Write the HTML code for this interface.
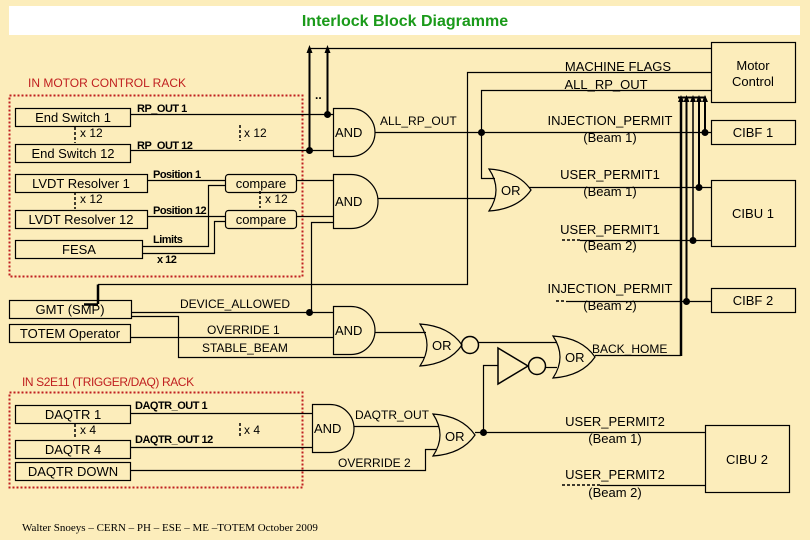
<!DOCTYPE html>
<html><head><meta charset="utf-8"><style>
html,body{margin:0;padding:0;background:#fcedbb;}
svg{display:block;font-family:"Liberation Sans",sans-serif;}
</style></head><body>
<svg width="810" height="540" viewBox="0 0 810 540" xmlns="http://www.w3.org/2000/svg">
<rect width="810" height="540" fill="#fcedbb"/>
<rect x="9" y="6" width="791" height="29" fill="#fff"/>
<text x="405" y="26" text-anchor="middle" font-size="16" font-weight="bold" fill="#1a9a1a">Interlock Block Diagramme</text>

<g fill="none" stroke="#000" stroke-width="1.2">
<rect x="9.5" y="95.5" width="293" height="181" stroke="#c02020" stroke-width="2" stroke-dasharray="2,2"/>
<rect x="9.5" y="392.5" width="293" height="95" stroke="#c02020" stroke-width="2" stroke-dasharray="2,2"/>

<rect x="15.5" y="108.5" width="115" height="18"/>
<rect x="15.5" y="144.5" width="115" height="18"/>
<rect x="15.5" y="174.5" width="132" height="18"/>
<rect x="15.5" y="210.5" width="132" height="18"/>
<rect x="15.5" y="240.5" width="127" height="18"/>
<rect x="225.5" y="174.5" width="71" height="18" rx="3"/>
<rect x="225.5" y="210.5" width="71" height="18" rx="3"/>
<rect x="9.5" y="300.5" width="122" height="18"/>
<rect x="9.5" y="324.5" width="121" height="18"/>
<rect x="15.5" y="405.5" width="115" height="18"/>
<rect x="15.5" y="440.5" width="115" height="18"/>
<rect x="15.5" y="462.5" width="115" height="18"/>

<rect x="711.5" y="42.5" width="84" height="60"/>
<rect x="711.5" y="120.5" width="84" height="24"/>
<rect x="711.5" y="180.5" width="84" height="66"/>
<rect x="711.5" y="288.5" width="84" height="24"/>
<rect x="705.5" y="425.5" width="84" height="67"/>

<g stroke-dasharray="3,2" stroke-width="1.5">
<line x1="75" y1="127" x2="75" y2="143"/>
<line x1="240" y1="125" x2="240" y2="141"/>
<line x1="260" y1="191" x2="260" y2="208"/>
<line x1="75" y1="192" x2="75" y2="209"/>
<line x1="75" y1="424" x2="75" y2="439"/>
<line x1="240" y1="423" x2="240" y2="438"/>
<line x1="562" y1="240" x2="580" y2="240"/>
<line x1="556" y1="301" x2="566" y2="301"/>
<line x1="562" y1="485" x2="600" y2="485"/>
</g>

<line x1="130" y1="114.5" x2="333" y2="114.5"/>
<line x1="130" y1="150.5" x2="333" y2="150.5"/>
<line x1="147" y1="180.5" x2="225" y2="180.5"/>
<line x1="147" y1="216.5" x2="225" y2="216.5"/>
<polyline points="142,246.5 208.5,246.5 208.5,185.5 225,185.5"/>
<polyline points="142,253.5 214.5,253.5 214.5,221.5 225,221.5"/>
<line x1="296" y1="180.5" x2="333" y2="180.5"/>
<line x1="296" y1="216.5" x2="333" y2="216.5"/>
<polyline points="311.5,310 311.5,222.5 333,222.5"/>

<path d="M333.5,108.5 H351 A24,24 0 0 1 351,156.5 H333.5 Z"/>
<path d="M333.5,174.5 H351 A27,27 0 0 1 351,228.5 H333.5 Z"/>
<path d="M333.5,306.5 H351 A24,24 0 0 1 351,354.5 H333.5 Z"/>
<path d="M312.5,404.5 H330 A24,24 0 0 1 330,452.5 H312.5 Z"/>
<path d="M489,169 Q503,190 489,211 Q518,209 531,190 Q518,171 489,169 Z"/>
<path d="M420,324 Q434,345 420,366 Q449,364 462,345 Q449,326 420,324 Z"/>
<path d="M553,336 Q567,357 553,378 Q582,376 595,357 Q582,338 553,336 Z"/>
<path d="M433,414 Q447,435 433,456 Q462,454 475,435 Q462,416 433,414 Z"/>
<circle cx="470" cy="345" r="8.5" stroke-width="1.5"/>
<path d="M498,348 L528,366 L498,384 Z" stroke-width="1.5"/>
<circle cx="537" cy="366" r="8.5" stroke-width="1.5"/>

<line x1="309.5" y1="48.5" x2="711" y2="48.5"/>
<line x1="309.5" y1="50" x2="309.5" y2="150" stroke-width="2"/>
<line x1="327.5" y1="50" x2="327.5" y2="114" stroke-width="2"/>
<polyline points="98,284.5 467.5,284.5 467.5,72.5 711,72.5"/>
<polyline points="98,304 98,284.5" stroke-width="2.5"/>
<line x1="84" y1="304.5" x2="98" y2="304.5" stroke-width="2.5"/>
<polyline points="495,178.5 481.5,178.5 481.5,90.5 711,90.5"/>
<line x1="375" y1="132.5" x2="711" y2="132.5"/>
<line x1="378" y1="198.5" x2="495" y2="198.5"/>
<line x1="529" y1="187.5" x2="711" y2="187.5"/>
<line x1="580" y1="240.5" x2="711" y2="240.5"/>
<line x1="566" y1="301.5" x2="711" y2="301.5"/>

<line x1="678" y1="97.5" x2="706" y2="97.5" stroke-width="2"/>
<line x1="681" y1="98" x2="681" y2="356" stroke-width="2.5"/>
<line x1="686.5" y1="98" x2="686.5" y2="301" stroke-width="2"/>
<line x1="693" y1="98" x2="693" y2="240" stroke-width="1.5"/>
<line x1="699" y1="98" x2="699" y2="187" stroke-width="2"/>
<line x1="705" y1="98" x2="705" y2="132" stroke-width="2"/>

<line x1="131" y1="312.5" x2="333" y2="312.5"/>
<line x1="130" y1="337.5" x2="333" y2="337.5"/>
<polyline points="131,316.5 178.5,316.5 178.5,357.5 425,357.5"/>
<line x1="375" y1="332.5" x2="426" y2="332.5"/>
<line x1="478" y1="342.5" x2="557" y2="342.5"/>
<line x1="546" y1="367.5" x2="557" y2="367.5"/>
<polyline points="498,365.5 483.5,365.5 483.5,432"/>
<line x1="595" y1="355.5" x2="681" y2="355.5"/>

<line x1="130" y1="413.5" x2="312" y2="413.5"/>
<line x1="130" y1="447.5" x2="312" y2="447.5"/>
<line x1="354" y1="426.5" x2="439" y2="426.5"/>
<polyline points="130,470.5 425.5,470.5 425.5,449.5 437,449.5"/>
<line x1="475" y1="432.5" x2="705" y2="432.5"/>
<line x1="600" y1="485.5" x2="705" y2="485.5"/>
</g>

<g fill="#000">
<path d="M309.5,45 L306.5,53 L312.5,53 Z"/>
<path d="M327.5,45 L324.5,53 L330.5,53 Z"/>
<path d="M681,95 L678,102 L684,102 Z"/>
<path d="M686.5,95 L683.5,102 L689.5,102 Z"/>
<path d="M693,95 L690,102 L696,102 Z"/>
<path d="M699,95 L696,102 L702,102 Z"/>
<path d="M705,95 L702,102 L708,102 Z"/>
<circle cx="327.5" cy="114.5" r="3.5"/>
<circle cx="309.5" cy="150.5" r="3.5"/>
<circle cx="481.5" cy="132.5" r="3.5"/>
<circle cx="705" cy="132.5" r="3.5"/>
<circle cx="699" cy="187.5" r="3.5"/>
<circle cx="693" cy="240.5" r="3.5"/>
<circle cx="686.5" cy="301.5" r="3.5"/>
<circle cx="309.5" cy="312.5" r="3.5"/>
<circle cx="483.5" cy="432.5" r="3.5"/>
</g>

<g font-size="13" fill="#000" text-anchor="middle">
<text x="73" y="122">End Switch 1</text>
<text x="73" y="158">End Switch 12</text>
<text x="81" y="188">LVDT Resolver 1</text>
<text x="81" y="224">LVDT Resolver 12</text>
<text x="79" y="254">FESA</text>
<text x="261" y="188">compare</text>
<text x="261" y="224">compare</text>
<text x="70" y="314">GMT (SMP)</text>
<text x="70" y="338">TOTEM Operator</text>
<text x="73" y="419">DAQTR 1</text>
<text x="73" y="454">DAQTR 4</text>
<text x="73" y="476">DAQTR DOWN</text>
<text x="753" y="137">CIBF 1</text>
<text x="753" y="218">CIBU 1</text>
<text x="753" y="305">CIBF 2</text>
<text x="747" y="464">CIBU 2</text>
<text x="618" y="71">MACHINE FLAGS</text>
<text x="606" y="89">ALL_RP_OUT</text>
<text x="610" y="125">INJECTION_PERMIT</text>
<text x="610" y="142">(Beam 1)</text>
<text x="610" y="179">USER_PERMIT1</text>
<text x="610" y="196">(Beam 1)</text>
<text x="610" y="234">USER_PERMIT1</text>
<text x="610" y="250">(Beam 2)</text>
<text x="610" y="293">INJECTION_PERMIT</text>
<text x="610" y="310">(Beam 2)</text>
<text x="615" y="426">USER_PERMIT2</text>
<text x="615" y="443">(Beam 1)</text>
<text x="615" y="479">USER_PERMIT2</text>
<text x="615" y="497">(Beam 2)</text>
<text x="753" y="70">Motor</text>
<text x="753" y="86">Control</text>
</g>
<g font-size="13" fill="#000">
<text x="335" y="137">AND</text>
<text x="335" y="206">AND</text>
<text x="335" y="335">AND</text>
<text x="314" y="433">AND</text>
<text x="501" y="195">OR</text>
<text x="432" y="350">OR</text>
<text x="565" y="362">OR</text>
<text x="445" y="441">OR</text>
</g>
<g font-size="12" fill="#000">
<text x="380" y="125">ALL_RP_OUT</text>
<text x="180" y="308">DEVICE_ALLOWED</text>
<text x="207" y="334">OVERRIDE 1</text>
<text x="202" y="352">STABLE_BEAM</text>
<text x="355" y="419">DAQTR_OUT</text>
<text x="338" y="467">OVERRIDE 2</text>
<text x="592" y="353">BACK_HOME</text>
<text x="80" y="137">x 12</text>
<text x="244" y="137">x 12</text>
<text x="265" y="203">x 12</text>
<text x="80" y="203">x 12</text>
<text x="80" y="434">x 4</text>
<text x="244" y="434">x 4</text>
<text x="315" y="99" font-weight="bold">..</text>
</g>
<g font-size="11" font-weight="bold" fill="#000" letter-spacing="-0.5">
<text x="137" y="112">RP_OUT 1</text>
<text x="137" y="149">RP_OUT 12</text>
<text x="153" y="178">Position 1</text>
<text x="153" y="214">Position 12</text>
<text x="153" y="243">Limits</text>
<text x="157" y="263">x 12</text>
<text x="135" y="409">DAQTR_OUT 1</text>
<text x="135" y="443">DAQTR_OUT 12</text>
</g>
<g font-size="12" fill="#c02020">
<text x="28" y="87">IN MOTOR CONTROL RACK</text>
<text x="22" y="386" letter-spacing="-0.4">IN S2E11 (TRIGGER/DAQ) RACK</text>
</g>
<text x="22" y="531" font-family="Liberation Serif, serif" font-size="11" fill="#000">Walter Snoeys – CERN – PH – ESE – ME –TOTEM October 2009</text>
</svg>
</body></html>
